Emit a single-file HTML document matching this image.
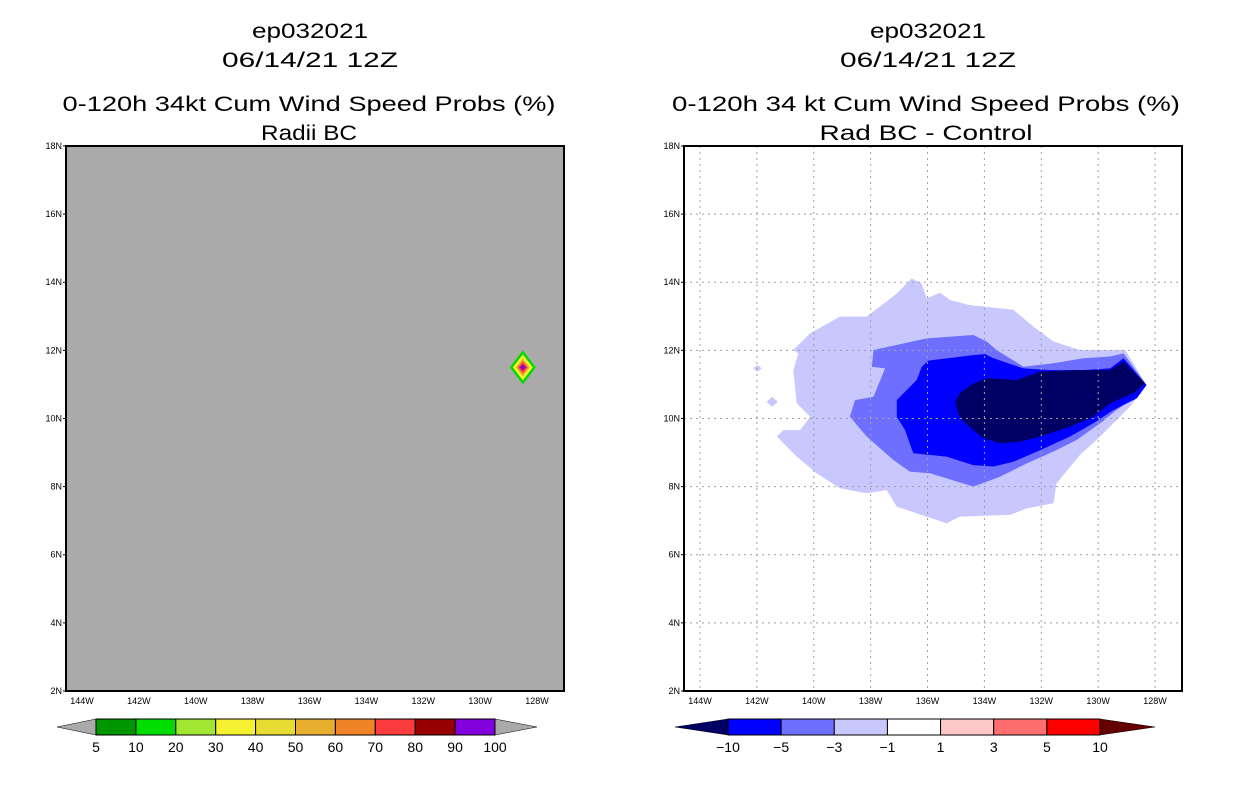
<!DOCTYPE html>
<html><head><meta charset="utf-8">
<style>
body{margin:0;background:#fff;width:1236px;height:800px;overflow:hidden;font-family:"Liberation Sans",sans-serif}
svg text{font-family:"Liberation Sans",sans-serif}
</style></head>
<body>
<svg id="chart" width="1236" height="800" xmlns="http://www.w3.org/2000/svg">
<g font-size="21" text-anchor="middle" fill="#000">
<text x="310" y="38" textLength="116" lengthAdjust="spacingAndGlyphs">ep032021</text>
<text x="310" y="67" textLength="176" lengthAdjust="spacingAndGlyphs">06/14/21 12Z</text>
<text x="309" y="111" textLength="493" lengthAdjust="spacingAndGlyphs">0-120h 34kt Cum Wind Speed Probs (%)</text>
<text x="309" y="140" textLength="96" lengthAdjust="spacingAndGlyphs">Radii BC</text>
<text x="928" y="38" textLength="116" lengthAdjust="spacingAndGlyphs">ep032021</text>
<text x="928" y="67" textLength="176" lengthAdjust="spacingAndGlyphs">06/14/21 12Z</text>
<text x="926" y="111" textLength="508" lengthAdjust="spacingAndGlyphs">0-120h 34 kt Cum Wind Speed Probs (%)</text>
<text x="926" y="140" textLength="213" lengthAdjust="spacingAndGlyphs">Rad BC - Control</text>
</g>
<g id="left"></g>
<g id="right"></g>
<g id="cbars"></g>
</svg>
<script>
const lonTicks=[-144,-142,-140,-138,-136,-134,-132,-130,-128];
const latTicks=[2,4,6,8,10,12,14,16,18];
const stormCenter=[-128.5,11.5];
const probLevels=[5,10,20,30,40,50,60,70,80,90,100];
const probColors=['#009600','#00dc00','#a0e632','#f5f032','#e6dc32','#e6af2d','#f08228','#fa3c3c','#960000','#8200dc'];
const diffLevels=['-10','-5','-3','-1','1','3','5','10'];
const diffColors=['#000064','#0000ff','#6e6eff','#c8c8ff','#ffffff','#ffc8c8','#ff6e6e','#ff0000','#640000'];
const lightLon=[-136.56,-136.21,-136.03,-135.56,-135.21,-134.51,-132.98,-132.28,-131.57,-130.64,-129.05,-128.30,-128.88,-129.93,-130.64,-131.46,-131.57,-132.51,-133.10,-134.86,-135.33,-136.03,-137.08,-137.44,-138.14,-139.08,-139.90,-140.60,-141.30,-141.07,-140.48,-140.13,-140.60,-140.72,-140.54,-140.72,-140.13,-139.08,-138.14,-137.08];
const lightLat=[14.11,13.97,13.53,13.69,13.48,13.33,13.19,12.70,12.26,12.01,12.01,10.98,10.35,9.47,8.93,8.10,7.51,7.36,7.17,7.12,6.92,7.12,7.41,7.90,7.80,7.95,8.39,8.88,9.47,9.66,9.66,10.05,10.45,11.42,11.91,12.01,12.50,12.99,12.99,13.67];
const island1Lon=[-142.13,-141.98,-141.83,-141.98];
const island1Lat=[11.47,11.57,11.47,11.37];
const island2Lon=[-141.66,-141.46,-141.26,-141.46];
const island2Lat=[10.49,10.64,10.49,10.34];
const medLon=[-137.90,-136.03,-134.39,-133.92,-133.57,-132.63,-131.57,-130.52,-129.58,-129.11,-128.30,-128.76,-129.35,-129.93,-130.75,-131.57,-132.51,-133.45,-134.39,-134.97,-135.91,-136.62,-137.20,-138.14,-138.73,-138.55,-137.90,-137.49,-137.96];
const medLat=[12.01,12.35,12.45,12.26,12.01,11.52,11.62,11.77,11.82,11.91,10.98,10.59,10.25,9.86,9.37,9.03,8.68,8.29,8.00,8.15,8.39,8.44,8.78,9.47,10.05,10.54,10.64,11.47,11.52];
const blueLon=[-135.97,-134.39,-133.98,-133.68,-132.63,-131.69,-130.52,-129.58,-129.11,-128.30,-128.64,-129.46,-130.17,-130.99,-132.04,-132.98,-133.68,-134.39,-135.33,-136.50,-136.79,-137.08,-137.08,-136.38,-136.20];
const blueLat=[11.70,11.86,11.89,11.77,11.47,11.42,11.42,11.47,11.77,10.98,10.59,10.25,9.86,9.47,9.07,8.73,8.59,8.63,8.88,8.98,9.66,10.05,10.54,11.13,11.52];
const darkLon=[-133.92,-132.86,-132.04,-130.87,-129.58,-129.11,-128.35,-128.76,-129.58,-130.17,-130.99,-132.04,-132.75,-133.45,-134.03,-134.39,-134.86,-135.03,-134.86,-134.39];
const darkLat=[11.18,11.13,11.37,11.42,11.42,11.67,11.03,10.74,10.45,10.05,9.76,9.47,9.32,9.27,9.42,9.66,10.01,10.49,10.74,11.03];

const NS='http://www.w3.org/2000/svg';
function mk(tag,attrs,parent){const e=document.createElementNS(NS,tag);for(const k in attrs)e.setAttribute(k,attrs[k]);parent.appendChild(e);return e;}
const PW=498,PH=545,T=146;
function xs(x0){return lon=>x0+16+(lon+144)*28.44;}
function ys(lat){return T+(18-lat)*34.06;}
function poly(g,lons,lats,fill,x){
  const pts=lons.map((l,i)=>x(l).toFixed(1)+','+ys(lats[i]).toFixed(1)).join(' ');
  return mk('polygon',{points:pts,fill:fill},g);
}
function axes(g,x0,grid){
  const x=xs(x0);
  if(grid){
    lonTicks.forEach(l=>{const ln=mk('line',{x1:x(l),x2:x(l),y1:T,y2:T+PH,stroke:'#a0a0a0','stroke-dasharray':'2,4'},g);
      });
    latTicks.forEach(l=>{const ln=mk('line',{x1:x0,x2:x0+PW,y1:ys(l),y2:ys(l),stroke:'#a0a0a0','stroke-dasharray':'2,4'},g);
      });
  }
  const fr=mk('rect',{x:x0,y:T,width:PW,height:PH,fill:'none',stroke:'#000','stroke-width':2},g);
  
  lonTicks.forEach(l=>{const t=mk('text',{x:x(l),y:T+PH+13,'font-size':9,'text-anchor':'middle'},g);t.textContent=(-l)+'W';
    });
  latTicks.forEach(l=>{const t=mk('text',{x:x0-4,y:ys(l)+3,'font-size':9,'text-anchor':'end'},g);t.textContent=l+'N';
    
    mk('line',{x1:x0-3,x2:x0,y1:ys(l),y2:ys(l),stroke:'#000'},g);});
}
const L=document.getElementById('left');
const bg=mk('rect',{x:66,y:T,width:PW,height:PH,fill:'#aaaaaa'},L);

const xl=xs(66);
const cx=xl(stormCenter[0]),cy=ys(stormCenter[1]);
[[13,17,probColors[1]],[10,13,probColors[3]],[7,9,probColors[5]],[5,6,probColors[7]],[3,3,probColors[9]]].forEach(d=>{
  const p=mk('polygon',{points:`${cx},${cy-d[1]} ${cx+d[0]},${cy} ${cx},${cy+d[1]} ${cx-d[0]},${cy}`,fill:d[2]},L);
  
});
axes(L,66,false);
const R=document.getElementById('right');
const xr=xs(684);
let p;
p=poly(R,lightLon,lightLat,diffColors[3],xr);
p=poly(R,island1Lon,island1Lat,diffColors[3],xr);
p=poly(R,island2Lon,island2Lat,diffColors[3],xr);
p=poly(R,medLon,medLat,diffColors[2],xr);
p=poly(R,blueLon,blueLat,diffColors[1],xr);
p=poly(R,darkLon,darkLat,diffColors[0],xr);
axes(R,684,true);
const C=document.getElementById('cbars');
function cbar(x0,x1,tri0,tri1,colors,labels,leftTri,rightTri){
  const n=colors.length,w=(x1-x0)/n,y0=719,y1=735,ym=727;
  const a=mk('polygon',{points:`${tri0},${ym} ${x0},${y0} ${x0},${y1}`,fill:leftTri,stroke:'#000','stroke-width':0.5},C);
  
  const b=mk('polygon',{points:`${tri1},${ym} ${x1},${y0} ${x1},${y1}`,fill:rightTri,stroke:'#000','stroke-width':0.5},C);
  
  colors.forEach((c,i)=>{const r=mk('rect',{x:x0+i*w,y:y0,width:w,height:y1-y0,fill:c,stroke:'#000','stroke-width':1},C);
    });
  labels.forEach((l,i)=>{const t=mk('text',{x:x0+i*w,y:752,'font-size':14,'text-anchor':'middle'},C);t.textContent=l;
    });
}
cbar(96,495,57,537,probColors,probLevels.map(String),'#aaaaaa','#aaaaaa');
cbar(728,1100,675,1155,diffColors.slice(1,8),diffLevels.map(s=>s.replace('-','\u2212')),diffColors[0],diffColors[8]);
</script>
</body></html>
